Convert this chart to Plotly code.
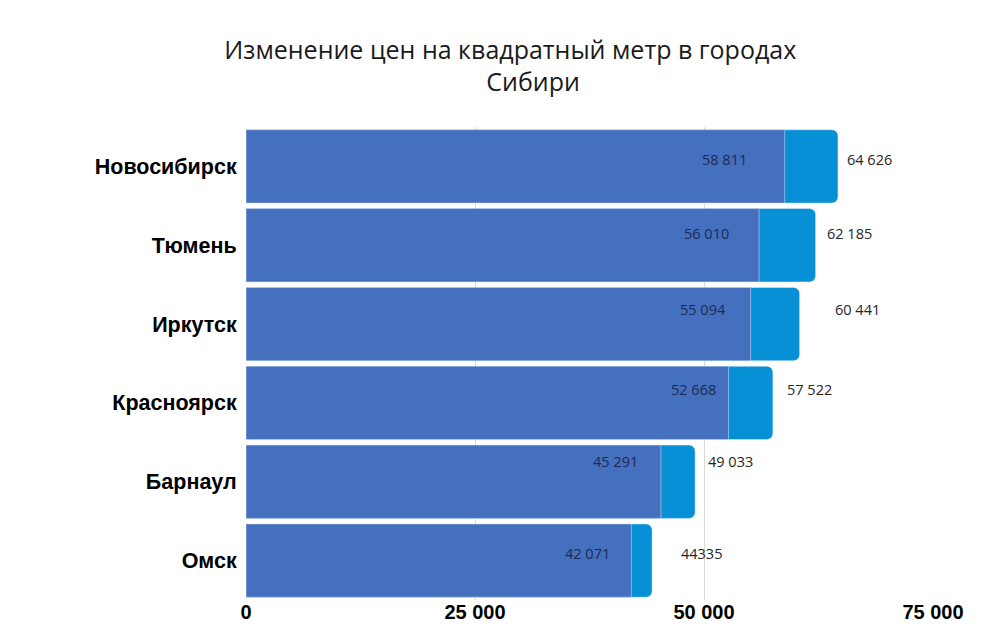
import plotly.graph_objects as go

# данные
cities = ['Новосибирск', 'Тюмень', 'Иркутск', 'Красноярск', 'Барнаул', 'Омск']
price_old = [58811, 56010, 55094, 52668, 45291, 42071]
price_new = [64626, 62185, 60441, 57522, 49033, 44335]
label_old = ['58 811', '56 010', '55 094', '52 668', '45 291', '42 071']
label_new = ['64 626', '62 185', '60 441', '57 522', '49 033', '44335']
tick_vals = [0, 25000, 50000, 75000]
tick_text = ['0', '25 000', '50 000', '75 000']

# подгонка положения подписей (в пикселях)
old_dx = [-36, -28, -23, -10, -21, -19]
new_dx = [7, 9, 33, 12, 11, 27]
lab_dy = [7, 12, 15, 13, 20, 7]

trace_new = go.Bar(
    y=cities, x=price_new, orientation='h', name='new',
    marker=dict(color='#0790d6', cornerradius=6),
    hoverinfo='x+y'
)
trace_old = go.Bar(
    y=cities, x=price_old, orientation='h', name='old',
    marker=dict(color='#4470bf'),
    hoverinfo='x+y'
)

fig = go.Figure(data=[trace_new, trace_old])

ann = []
for i, c in enumerate(cities):
    ann.append(dict(x=price_old[i], y=c, text=label_old[i], showarrow=False,
                    xanchor='right', xshift=old_dx[i], yshift=lab_dy[i],
                    font=dict(family='Open Sans', size=14.5, color='#1c2b55')))
    ann.append(dict(x=price_new[i], y=c, text=label_new[i], showarrow=False,
                    xanchor='left', xshift=new_dx[i], yshift=lab_dy[i],
                    font=dict(family='Open Sans', size=14.5, color='#262626')))

# страница имеет отступ 8px, поэтому фигура чуть меньше окна
fig.update_layout(
    width=983, height=616,
    barmode='overlay', bargap=0.07,
    showlegend=False,
    paper_bgcolor='white', plot_bgcolor='white',
    margin=dict(l=238, r=58, t=119, b=24),
    title=dict(text='Изменение цен на квадратный метр в городах<br>' + '&nbsp;' * 7 + 'Сибири',
               x=0.511, xanchor='center', y=0.918, yanchor='top',
               font=dict(family='Open Sans', size=25, color='#1a1a1a')),
    annotations=ann,
    xaxis=dict(range=[0, 75000], tickvals=tick_vals, ticktext=tick_text,
               showgrid=True, gridcolor='#d9d9d9', gridwidth=1,
               zeroline=False, showline=False, automargin=False,
               ticklabelstandoff=-2,
               tickfont=dict(family='Liberation Sans', size=20, color='black', weight='bold')),
    yaxis=dict(categoryorder='array', categoryarray=cities[::-1],
               showgrid=False, zeroline=False, showline=False, automargin=False,
               ticks='outside', ticklen=4, tickcolor='white',
               tickfont=dict(family='Liberation Sans', size=21.5, color='black', weight='bold')),
)

fig.write_html('out.html')
